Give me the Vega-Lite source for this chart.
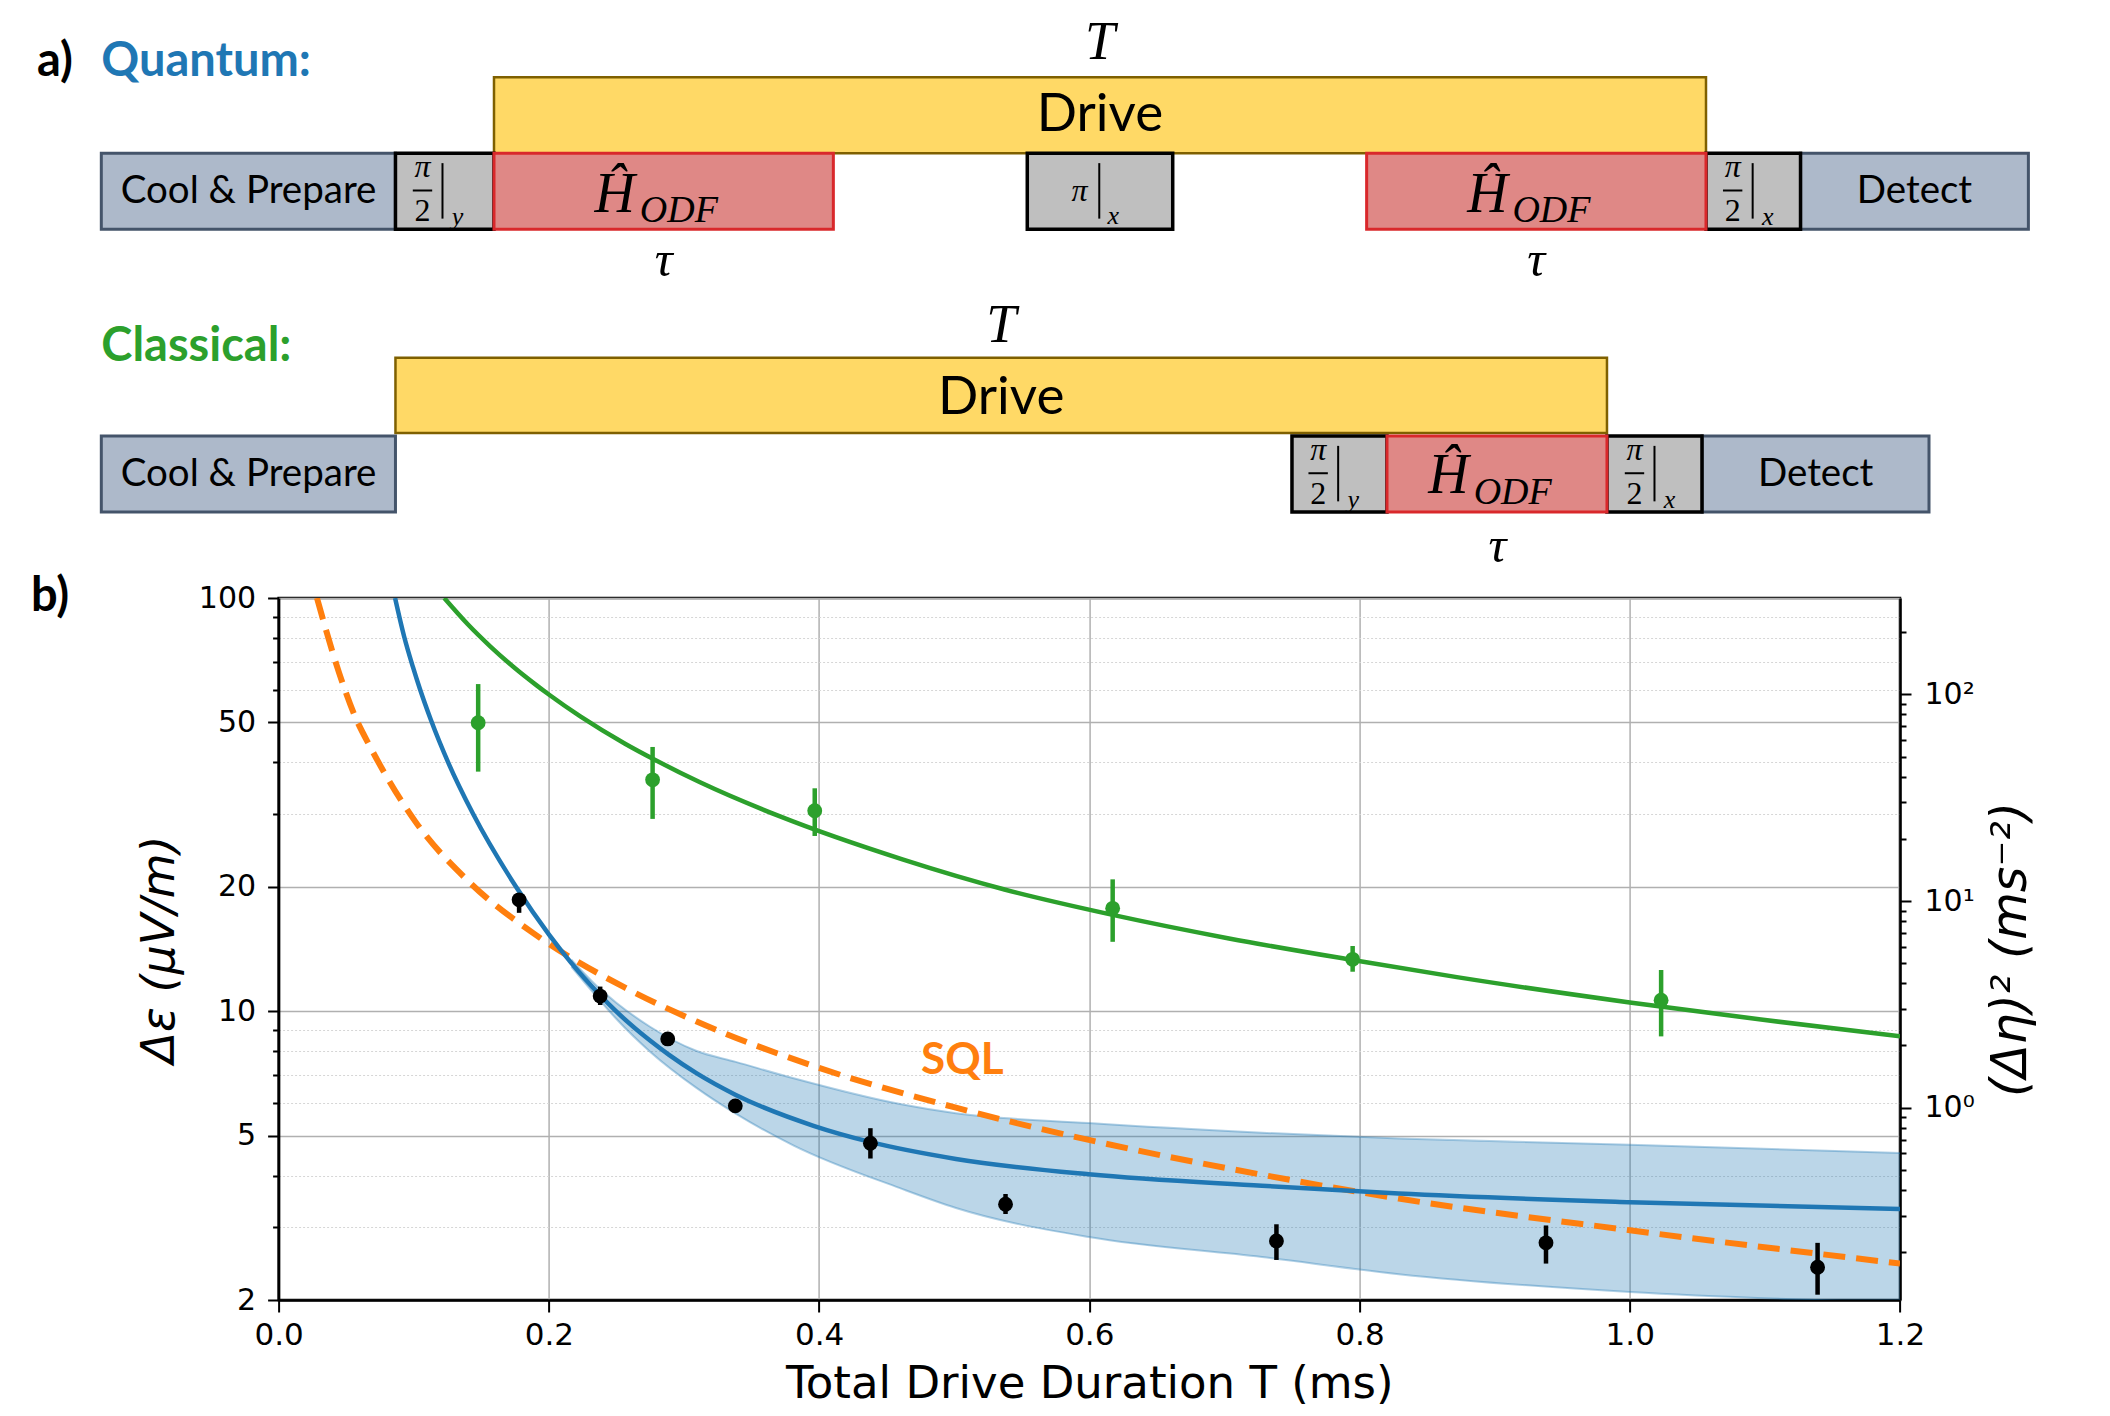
{
  "$schema": "https://vega.github.io/schema/vega-lite/v6.json",
  "autosize": {"type": "none"},
  "padding": {"left": 278.6, "top": 598, "right": 210, "bottom": 116},
  "width": 1621.4,
  "height": 702,
  "background": "white",
  "config": {
    "view": {"stroke": "black", "strokeWidth": 2.5},
    "axis": {
      "domainColor": "black", "domainWidth": 2.5, "tickColor": "black", "tickWidth": 2,
      "labelFont": "DejaVu Sans", "labelFontSize": 30, "labelColor": "black",
      "titleFont": "DejaVu Sans", "titleColor": "black", "titleFontWeight": "normal"
    }
  },
  "datasets": {
    "band": [
      {"T": 0.2167, "lo": 12.8, "hi": 13.33},
      {"T": 0.238, "lo": 10.6, "hi": 11.31},
      {"T": 0.2497, "lo": 9.6, "hi": 10.5},
      {"T": 0.2749, "lo": 7.98, "hi": 9.17},
      {"T": 0.309, "lo": 6.53, "hi": 8.02},
      {"T": 0.3383, "lo": 5.65, "hi": 7.54},
      {"T": 0.3812, "lo": 4.73, "hi": 6.88},
      {"T": 0.4599, "lo": 3.73, "hi": 5.96},
      {"T": 0.5013, "lo": 3.34, "hi": 5.66},
      {"T": 0.5996, "lo": 2.84, "hi": 5.36},
      {"T": 0.7278, "lo": 2.54, "hi": 5.08},
      {"T": 0.829, "lo": 2.31, "hi": 4.92},
      {"T": 1.0, "lo": 2.09, "hi": 4.75},
      {"T": 1.2, "lo": 1.97, "hi": 4.54}
    ],
    "blue": [
      {"T": 0.0862, "eps": 100}, {"T": 0.0929, "eps": 80.7}, {"T": 0.0994, "eps": 68.1},
      {"T": 0.1046, "eps": 60.2}, {"T": 0.1126, "eps": 50.8}, {"T": 0.1258, "eps": 39.8},
      {"T": 0.144, "eps": 30}, {"T": 0.1757, "eps": 20}, {"T": 0.2, "eps": 15.34},
      {"T": 0.2167, "eps": 13.07}, {"T": 0.238, "eps": 10.93}, {"T": 0.2497, "eps": 10.0},
      {"T": 0.2749, "eps": 8.49}, {"T": 0.2887, "eps": 7.85}, {"T": 0.3092, "eps": 7.08},
      {"T": 0.338, "eps": 6.28}, {"T": 0.3959, "eps": 5.28}, {"T": 0.4384, "eps": 4.82},
      {"T": 0.5013, "eps": 4.39}, {"T": 0.5996, "eps": 4.03}, {"T": 0.7278, "eps": 3.78},
      {"T": 0.829, "eps": 3.62}, {"T": 1.0, "eps": 3.45}, {"T": 1.2, "eps": 3.32}
    ],
    "green": [
      {"T": 0.1226, "eps": 100}, {"T": 0.14, "eps": 86.4}, {"T": 0.157, "eps": 76.2},
      {"T": 0.175, "eps": 67.6}, {"T": 0.19, "eps": 61.8}, {"T": 0.2, "eps": 58.4},
      {"T": 0.2233, "eps": 51.7}, {"T": 0.2564, "eps": 44.4}, {"T": 0.2784, "eps": 40.6},
      {"T": 0.3119, "eps": 35.8}, {"T": 0.3711, "eps": 29.6}, {"T": 0.4617, "eps": 23.3},
      {"T": 0.5372, "eps": 19.7}, {"T": 0.6173, "eps": 17.1}, {"T": 0.7034, "eps": 15.0},
      {"T": 0.7949, "eps": 13.3}, {"T": 0.872, "eps": 12.09}, {"T": 1.0, "eps": 10.5},
      {"T": 1.0986, "eps": 9.53}, {"T": 1.2, "eps": 8.7}
    ],
    "sql": [
      {"T": 0.0284, "eps": 100}, {"T": 0.0449, "eps": 65.7}, {"T": 0.0568, "eps": 51.5},
      {"T": 0.068, "eps": 43.5}, {"T": 0.1011, "eps": 28.8}, {"T": 0.1407, "eps": 20.6},
      {"T": 0.1903, "eps": 15.3}, {"T": 0.2564, "eps": 11.4}, {"T": 0.309, "eps": 9.45},
      {"T": 0.3995, "eps": 7.3}, {"T": 0.5013, "eps": 5.84}, {"T": 0.5996, "eps": 4.88},
      {"T": 0.7278, "eps": 4.02}, {"T": 0.829, "eps": 3.52}, {"T": 1.0, "eps": 2.95},
      {"T": 1.2, "eps": 2.45}
    ],
    "pts": [
      {"set": "quantum", "T": 0.178, "eps": 18.6, "lo": 17.3, "hi": 19.3},
      {"set": "quantum", "T": 0.238, "eps": 10.88, "lo": 10.35, "hi": 11.47},
      {"set": "quantum", "T": 0.288, "eps": 8.57, "lo": 8.35, "hi": 8.8},
      {"set": "quantum", "T": 0.338, "eps": 5.9, "lo": 5.75, "hi": 6.05},
      {"set": "quantum", "T": 0.438, "eps": 4.79, "lo": 4.4, "hi": 5.21},
      {"set": "quantum", "T": 0.538, "eps": 3.41, "lo": 3.23, "hi": 3.61},
      {"set": "quantum", "T": 0.7385, "eps": 2.78, "lo": 2.5, "hi": 3.05},
      {"set": "quantum", "T": 0.938, "eps": 2.75, "lo": 2.45, "hi": 3.03},
      {"set": "quantum", "T": 1.139, "eps": 2.4, "lo": 2.06, "hi": 2.75},
      {"set": "classical", "T": 0.1477, "eps": 49.9, "lo": 38.0, "hi": 61.9},
      {"set": "classical", "T": 0.2768, "eps": 36.3, "lo": 29.2, "hi": 43.6},
      {"set": "classical", "T": 0.3968, "eps": 30.56, "lo": 26.55, "hi": 34.63},
      {"set": "classical", "T": 0.6173, "eps": 17.74, "lo": 14.72, "hi": 20.85},
      {"set": "classical", "T": 0.7949, "eps": 13.35, "lo": 12.46, "hi": 14.38},
      {"set": "classical", "T": 1.0232, "eps": 10.63, "lo": 8.69, "hi": 12.58}
    ],
    "boxes": [
      {"kind": "drive", "x0": 0, "x1": 100, "y0": 4.72, "y1": 5.72},
      {"kind": "drive", "x0": -8.13, "x1": 91.83, "y0": 1.04, "y1": 2.03},
      {"kind": "prep", "x0": -32.4, "x1": -8.13, "y0": 3.72, "y1": 4.72},
      {"kind": "prep", "x0": 107.8, "x1": 126.6, "y0": 3.72, "y1": 4.72},
      {"kind": "prep", "x0": -32.4, "x1": -8.13, "y0": 0, "y1": 1},
      {"kind": "prep", "x0": 99.67, "x1": 118.4, "y0": 0, "y1": 1},
      {"kind": "pulse", "x0": -8.13, "x1": 0, "y0": 3.72, "y1": 4.72},
      {"kind": "pulse", "x0": 44, "x1": 56, "y0": 3.72, "y1": 4.72},
      {"kind": "pulse", "x0": 100, "x1": 107.8, "y0": 3.72, "y1": 4.72},
      {"kind": "pulse", "x0": 65.84, "x1": 73.68, "y0": 0, "y1": 1},
      {"kind": "pulse", "x0": 91.83, "x1": 99.67, "y0": 0, "y1": 1},
      {"kind": "odf", "x0": 0, "x1": 28, "y0": 3.72, "y1": 4.72},
      {"kind": "odf", "x0": 72, "x1": 100, "y0": 3.72, "y1": 4.72},
      {"kind": "odf", "x0": 73.68, "x1": 91.83, "y0": 0, "y1": 1}
    ],
    "strokes": [
      {"x0": -6.7, "x1": -5.1, "y0": 4.23, "y1": 4.23},
      {"x0": 101.4, "x1": 103.0, "y0": 4.23, "y1": 4.23},
      {"x0": 67.2, "x1": 68.8, "y0": 0.51, "y1": 0.51},
      {"x0": 93.3, "x1": 94.9, "y0": 0.51, "y1": 0.51},
      {"x0": -4.25, "x1": -4.25, "y0": 4.59, "y1": 3.86},
      {"x0": 103.85, "x1": 103.85, "y0": 4.59, "y1": 3.86},
      {"x0": 69.65, "x1": 69.65, "y0": 0.87, "y1": 0.14},
      {"x0": 95.75, "x1": 95.75, "y0": 0.87, "y1": 0.14},
      {"x0": 49.94, "x1": 49.94, "y0": 4.59, "y1": 3.86}
    ],
    "labels": [
      {"kind": "head", "role": "a", "x": -37.7, "y": 5.92, "text": "a)"},
      {"kind": "head", "role": "q", "x": -32.4, "y": 5.92, "text": "Quantum:"},
      {"kind": "head", "role": "c", "x": -32.4, "y": 2.17, "text": "Classical:"},
      {"kind": "head", "role": "a", "x": -38.2, "y": -1.12, "text": "b)"},
      {"kind": "drive", "x": 50, "y": 5.22, "text": "Drive"},
      {"kind": "drive", "x": 41.85, "y": 1.5, "text": "Drive"},
      {"kind": "box", "x": -20.25, "y": 4.22, "text": "Cool & Prepare"},
      {"kind": "box", "x": 117.2, "y": 4.22, "text": "Detect"},
      {"kind": "box", "x": -20.25, "y": 0.5, "text": "Cool & Prepare"},
      {"kind": "box", "x": 109.05, "y": 0.5, "text": "Detect"},
      {"kind": "math", "x": 50, "y": 6.17, "text": "T"},
      {"kind": "math", "x": 41.85, "y": 2.45, "text": "T"},
      {"kind": "tau", "x": 14, "y": 3.3, "text": "τ"},
      {"kind": "tau", "x": 86, "y": 3.3, "text": "τ"},
      {"kind": "tau", "x": 82.8, "y": -0.46, "text": "τ"},
      {"kind": "H", "x": 9.96, "y": 3.947, "text": "Ĥ"},
      {"kind": "H", "x": 81.96, "y": 3.947, "text": "Ĥ"},
      {"kind": "H", "x": 78.76, "y": 0.246, "text": "Ĥ"},
      {"kind": "ODF", "x": 15.25, "y": 3.82, "text": "ODF"},
      {"kind": "ODF", "x": 87.25, "y": 3.82, "text": "ODF"},
      {"kind": "ODF", "x": 84.05, "y": 0.1, "text": "ODF"},
      {"kind": "pi", "x": -5.9, "y": 4.54, "text": "π"},
      {"kind": "pi", "x": 102.2, "y": 4.54, "text": "π"},
      {"kind": "pi", "x": 68.0, "y": 0.82, "text": "π"},
      {"kind": "pi", "x": 94.1, "y": 0.82, "text": "π"},
      {"kind": "pi", "x": 48.3, "y": 4.22, "text": "π"},
      {"kind": "two", "x": -5.9, "y": 3.96, "text": "2"},
      {"kind": "two", "x": 102.2, "y": 3.96, "text": "2"},
      {"kind": "two", "x": 68.0, "y": 0.24, "text": "2"},
      {"kind": "two", "x": 94.1, "y": 0.24, "text": "2"},
      {"kind": "sub", "x": -3.0, "y": 3.88, "text": "y"},
      {"kind": "sub", "x": 105.1, "y": 3.88, "text": "x"},
      {"kind": "sub", "x": 70.9, "y": 0.16, "text": "y"},
      {"kind": "sub", "x": 97.0, "y": 0.16, "text": "x"},
      {"kind": "sub", "x": 51.1, "y": 3.89, "text": "x"}
    ]
  },
  "resolve": {"scale": {"x": "independent", "y": "independent"}},
  "layer": [
    {
      "layer": [
        {
          "data": {"name": "band"},
          "mark": {"type": "area", "color": "#1f77b4", "opacity": 0.3, "interpolate": "monotone", "clip": true},
          "encoding": {
            "x": {"field": "T", "type": "quantitative",
              "scale": {"domain": [0, 1.2], "nice": false, "zero": false},
              "axis": {"title": "Total Drive Duration T (ms)", "values": [0, 0.2, 0.4, 0.6, 0.8, 1.0, 1.2],
                "format": ".1f", "tickSize": 12, "labelPadding": 8, "labelFontSize": 31, "titleFontSize": 45, "titlePadding": 11,
                "grid": true, "gridColor": "#b0b0b0", "gridWidth": 1.5, "labelFlush": false, "labelOverlap": false}},
            "y": {"field": "lo", "type": "quantitative",
              "scale": {"type": "log", "domain": [2, 100], "nice": false},
              "axis": {"title": "Δε (μV/m)", "titleFontSize": 46, "titleFontStyle": "italic", "titlePadding": 15,
                "values": [2, 3, 4, 5, 6, 7, 8, 9, 10, 20, 30, 40, 50, 60, 70, 80, 90, 100],
                "labelExpr": "indexof([2,5,10,20,50,100], datum.value) >= 0 ? format(datum.value, 'd') : ''",
                "tickSize": {"condition": {"test": "indexof([2,5,10,20,50,100], datum.value) >= 0", "value": 11}, "value": 6},
                "labelPadding": 12, "labelOverlap": false, "labelFlush": false,
                "grid": true,
                "gridColor": {"condition": {"test": "indexof([2,5,10,20,50,100], datum.value) >= 0", "value": "#b0b0b0"}, "value": "#d6d6d6"},
                "gridDash": {"condition": {"test": "indexof([2,5,10,20,50,100], datum.value) >= 0", "value": []}, "value": [2, 2]},
                "gridWidth": {"condition": {"test": "indexof([2,5,10,20,50,100], datum.value) >= 0", "value": 1.5}, "value": 1}}},
            "y2": {"field": "hi"}
          }
        },
        {
          "data": {"name": "band"},
          "mark": {"type": "line", "color": "#1f77b4", "opacity": 0.35, "strokeWidth": 2, "interpolate": "monotone", "clip": true},
          "encoding": {"x": {"field": "T", "type": "quantitative"}, "y": {"field": "hi", "type": "quantitative"}}
        },
        {
          "data": {"name": "band"},
          "mark": {"type": "line", "color": "#1f77b4", "opacity": 0.35, "strokeWidth": 2, "interpolate": "monotone", "clip": true},
          "encoding": {"x": {"field": "T", "type": "quantitative"}, "y": {"field": "lo", "type": "quantitative"}}
        },
        {
          "data": {"name": "sql"},
          "mark": {"type": "line", "color": "#ff7f0e", "strokeWidth": 6, "strokeDash": [22, 11], "interpolate": "monotone", "clip": true},
          "encoding": {"x": {"field": "T", "type": "quantitative"}, "y": {"field": "eps", "type": "quantitative"}}
        },
        {
          "data": {"name": "green"},
          "mark": {"type": "line", "color": "#2ca02c", "strokeWidth": 4.5, "interpolate": "monotone", "clip": true},
          "encoding": {"x": {"field": "T", "type": "quantitative"}, "y": {"field": "eps", "type": "quantitative"}}
        },
        {
          "data": {"name": "blue"},
          "mark": {"type": "line", "color": "#1f77b4", "strokeWidth": 4.5, "interpolate": "monotone", "clip": true},
          "encoding": {"x": {"field": "T", "type": "quantitative"}, "y": {"field": "eps", "type": "quantitative"}}
        },
        {
          "data": {"name": "pts"},
          "mark": {"type": "rule", "strokeWidth": 4.5},
          "encoding": {
            "x": {"field": "T", "type": "quantitative"},
            "y": {"field": "lo", "type": "quantitative"},
            "y2": {"field": "hi"},
            "color": {"condition": {"test": "datum.set == 'classical'", "value": "#2ca02c"}, "value": "black"}
          }
        },
        {
          "data": {"name": "pts"},
          "mark": {"type": "point", "filled": true, "size": 220, "opacity": 1},
          "encoding": {
            "x": {"field": "T", "type": "quantitative"},
            "y": {"field": "eps", "type": "quantitative"},
            "color": {"condition": {"test": "datum.set == 'classical'", "value": "#2ca02c"}, "value": "black"}
          }
        },
        {
          "data": {"values": [{"T": 0.506, "eps": 7.58, "label": "SQL"}]},
          "mark": {"type": "text", "font": "Lato", "fontWeight": "bold", "fontSize": 44, "color": "#ff7f0e", "align": "center", "baseline": "middle"},
          "encoding": {"x": {"field": "T", "type": "quantitative"}, "y": {"field": "eps", "type": "quantitative"}, "text": {"field": "label"}}
        }
      ]
    },
    {
      "data": {"values": [{"eta2": 1}, {"eta2": 10}, {"eta2": 100}]},
      "mark": {"type": "point", "opacity": 0},
      "encoding": {
        "y": {"field": "eta2", "type": "quantitative",
          "scale": {"type": "log", "domain": [0.1172, 293], "nice": false},
          "axis": {"orient": "right", "title": "(Δη)² (ms⁻²)", "titleFontSize": 49, "titleFontStyle": "italic",
            "titleAngle": -90, "titleBaseline": "top", "titlePadding": 12,
            "values": [0.2, 0.3, 0.4, 0.5, 0.6, 0.7, 0.8, 0.9, 1, 2, 3, 4, 5, 6, 7, 8, 9, 10, 20, 30, 40, 50, 60, 70, 80, 90, 100, 200],
            "labelExpr": "datum.value == 1 ? '10⁰' : datum.value == 10 ? '10¹' : datum.value == 100 ? '10²' : ''",
            "tickSize": {"condition": {"test": "datum.value == 1 || datum.value == 10 || datum.value == 100", "value": 11}, "value": 6},
            "labelPadding": 13, "labelOverlap": false, "labelFlush": false, "grid": false}}
      }
    },
    {
      "layer": [
        {
          "data": {"name": "boxes"},
          "transform": [{"filter": "datum.kind == 'drive'"}],
          "mark": {"type": "rect", "fill": "#FFD966", "stroke": "#7F6000", "strokeWidth": 2.5},
          "encoding": {
            "x": {"field": "x0", "type": "quantitative", "scale": {"domain": [-17.772, 116.007], "nice": false, "zero": false}, "axis": null},
            "x2": {"field": "x1"},
            "y": {"field": "y0", "type": "quantitative", "scale": {"domain": [-10.368, -1.1316], "nice": false, "zero": false}, "axis": null},
            "y2": {"field": "y1"}
          }
        },
        {
          "data": {"name": "boxes"},
          "transform": [{"filter": "datum.kind == 'prep'"}],
          "mark": {"type": "rect", "fill": "#ADB9CA", "stroke": "#44546A", "strokeWidth": 3},
          "encoding": {"x": {"field": "x0", "type": "quantitative"}, "x2": {"field": "x1"}, "y": {"field": "y0", "type": "quantitative"}, "y2": {"field": "y1"}}
        },
        {
          "data": {"name": "boxes"},
          "transform": [{"filter": "datum.kind == 'pulse'"}],
          "mark": {"type": "rect", "fill": "#BFBFBF", "stroke": "black", "strokeWidth": 3.5},
          "encoding": {"x": {"field": "x0", "type": "quantitative"}, "x2": {"field": "x1"}, "y": {"field": "y0", "type": "quantitative"}, "y2": {"field": "y1"}}
        },
        {
          "data": {"name": "boxes"},
          "transform": [{"filter": "datum.kind == 'odf'"}],
          "mark": {"type": "rect", "fill": "#DF8886", "stroke": "#D9282B", "strokeWidth": 3},
          "encoding": {"x": {"field": "x0", "type": "quantitative"}, "x2": {"field": "x1"}, "y": {"field": "y0", "type": "quantitative"}, "y2": {"field": "y1"}}
        },
        {
          "data": {"name": "strokes"},
          "mark": {"type": "rule", "color": "black", "strokeWidth": 2},
          "encoding": {"x": {"field": "x0", "type": "quantitative"}, "x2": {"field": "x1"}, "y": {"field": "y0", "type": "quantitative"}, "y2": {"field": "y1"}}
        },
        {
          "data": {"name": "labels"},
          "transform": [{"filter": "datum.kind == 'head'"}],
          "mark": {"type": "text", "font": "Lato", "fontWeight": "bold", "fontSize": 47, "align": "left", "baseline": "middle"},
          "encoding": {
            "x": {"field": "x", "type": "quantitative"}, "y": {"field": "y", "type": "quantitative"}, "text": {"field": "text"},
            "color": {"condition": [{"test": "datum.role == 'q'", "value": "#1f77b4"}, {"test": "datum.role == 'c'", "value": "#2ca02c"}], "value": "black"}
          }
        },
        {
          "data": {"name": "labels"},
          "transform": [{"filter": "datum.kind == 'drive'"}],
          "mark": {"type": "text", "font": "Lato", "fontSize": 53, "color": "black", "align": "center", "baseline": "middle"},
          "encoding": {"x": {"field": "x", "type": "quantitative"}, "y": {"field": "y", "type": "quantitative"}, "text": {"field": "text"}}
        },
        {
          "data": {"name": "labels"},
          "transform": [{"filter": "datum.kind == 'box'"}],
          "mark": {"type": "text", "font": "Lato", "fontSize": 38.5, "color": "black", "align": "center", "baseline": "middle"},
          "encoding": {"x": {"field": "x", "type": "quantitative"}, "y": {"field": "y", "type": "quantitative"}, "text": {"field": "text"}}
        },
        {
          "data": {"name": "labels"},
          "transform": [{"filter": "datum.kind == 'math'"}],
          "mark": {"type": "text", "font": "Liberation Serif", "fontStyle": "italic", "fontSize": 54, "color": "black", "align": "center", "baseline": "middle"},
          "encoding": {"x": {"field": "x", "type": "quantitative"}, "y": {"field": "y", "type": "quantitative"}, "text": {"field": "text"}}
        },
        {
          "data": {"name": "labels"},
          "transform": [{"filter": "datum.kind == 'tau'"}],
          "mark": {"type": "text", "font": "Liberation Serif", "fontStyle": "italic", "fontSize": 50, "color": "black", "align": "center", "baseline": "middle"},
          "encoding": {"x": {"field": "x", "type": "quantitative"}, "y": {"field": "y", "type": "quantitative"}, "text": {"field": "text"}}
        },
        {
          "data": {"name": "labels"},
          "transform": [{"filter": "datum.kind == 'H'"}],
          "mark": {"type": "text", "font": "Liberation Serif", "fontStyle": "italic", "fontSize": 56, "color": "black", "align": "center", "baseline": "alphabetic"},
          "encoding": {"x": {"field": "x", "type": "quantitative"}, "y": {"field": "y", "type": "quantitative"}, "text": {"field": "text"}}
        },
        {
          "data": {"name": "labels"},
          "transform": [{"filter": "datum.kind == 'ODF'"}],
          "mark": {"type": "text", "font": "Liberation Serif", "fontStyle": "italic", "fontSize": 38, "color": "black", "align": "center", "baseline": "alphabetic"},
          "encoding": {"x": {"field": "x", "type": "quantitative"}, "y": {"field": "y", "type": "quantitative"}, "text": {"field": "text"}}
        },
        {
          "data": {"name": "labels"},
          "transform": [{"filter": "datum.kind == 'pi'"}],
          "mark": {"type": "text", "font": "Liberation Serif", "fontStyle": "italic", "fontSize": 32, "color": "black", "align": "center", "baseline": "middle"},
          "encoding": {"x": {"field": "x", "type": "quantitative"}, "y": {"field": "y", "type": "quantitative"}, "text": {"field": "text"}}
        },
        {
          "data": {"name": "labels"},
          "transform": [{"filter": "datum.kind == 'two'"}],
          "mark": {"type": "text", "font": "Liberation Serif", "fontSize": 32, "color": "black", "align": "center", "baseline": "middle"},
          "encoding": {"x": {"field": "x", "type": "quantitative"}, "y": {"field": "y", "type": "quantitative"}, "text": {"field": "text"}}
        },
        {
          "data": {"name": "labels"},
          "transform": [{"filter": "datum.kind == 'sub'"}],
          "mark": {"type": "text", "font": "Liberation Serif", "fontStyle": "italic", "fontSize": 26, "color": "black", "align": "center", "baseline": "middle"},
          "encoding": {"x": {"field": "x", "type": "quantitative"}, "y": {"field": "y", "type": "quantitative"}, "text": {"field": "text"}}
        }
      ]
    }
  ]
}
